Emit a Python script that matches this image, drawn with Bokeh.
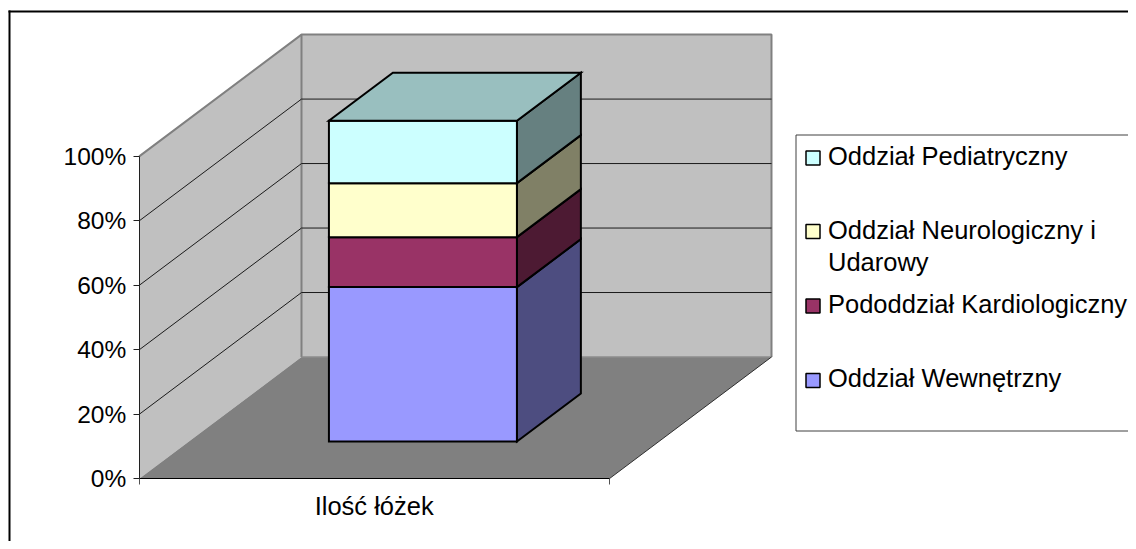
from bokeh.plotting import figure
from bokeh.models import LinearAxis, FixedTicker, PrintfTickFormatter, Range1d
from bokeh.core.properties import value
from bokeh.embed import file_html
from bokeh.resources import INLINE

# ---- data
category = "Ilość łóżek"
series_names = ["Oddział Wewnętrzny", "Pododdział Kardiologiczny", "Oddział Neurologiczny i", "Oddział Pediatryczny"]
series_values = [47.9, 15.5, 16.75, 19.35]
front_colors = ["#9999FF", "#993366", "#FFFFCC", "#CCFFFF"]
side_colors = ["#4D4D80", "#4D1A33", "#808066", "#668080"]
top_color = "#99BFBF"
y_ticks = [0, 20, 40, 60, 80, 100]
legend_order = [3, 2, 1, 0]

FONT = "Liberation Sans"
W, H = 1128, 541
PX0, PY0, PX_U, PX_V = 138.7, 478.3, 470.0, 3.224   # origin and scale of the chart's axes
DEPTH_U, DEPTH_V = 162.3 / PX_U, 121.8 / PX_V       # shift of the back wall

def X(px):  # picture pixel -> axis unit
    return (px - PX0) / PX_U
def Y(py):
    return (PY0 - py) / PX_V
def PU(u, t):
    return u + t * DEPTH_U
def PV(v, t):
    return v + t * DEPTH_V

p = figure(width=W, height=H, output_backend="svg", toolbar_location=None,
           x_range=Range1d(X(0), X(W)), y_range=Range1d(Y(H), Y(0)),
           x_axis_type=None, y_axis_type=None, min_border=0)
p.outline_line_color = None
p.grid.visible = False
p.background_fill_color = "white"

# chart frame (cut by the page at right and bottom)
p.line([X(9), X(9)], [Y(10), Y(H)], line_color="black", line_width=2)
p.line([X(8), X(W)], [Y(11), Y(11)], line_color="black", line_width=2)

# walls and floor
GREY = "#808080"
p.patch([PU(0, 0), PU(0, 1), PU(0, 1), PU(0, 0)], [PV(0, 0), PV(0, 1), PV(100, 1), PV(100, 0)],
        fill_color="#C0C0C0", line_color=None)
p.patch([PU(0, 1), PU(1, 1), PU(1, 1), PU(0, 1)], [PV(0, 1), PV(0, 1), PV(100, 1), PV(100, 1)],
        fill_color="#C0C0C0", line_color=None)
p.patch([PU(0, 0), PU(0, 1), PU(1, 1), PU(1, 0)], [PV(0, 0), PV(0, 1), PV(0, 1), PV(0, 0)],
        fill_color=GREY, line_color=None)
p.line([PU(0, 0), PU(0, 1), PU(1, 1), PU(1, 1)], [PV(100, 0), PV(100, 1), PV(100, 1), PV(0, 1)],
       line_color=GREY, line_width=2)
p.line([PU(0, 1), PU(0, 1)], [PV(0, 1), PV(100, 1)], line_color=GREY, line_width=2)
p.line([PU(0, 1), PU(1, 1)], [PV(0, 1), PV(0, 1)], line_color="#8C8C8C", line_width=1.5)
p.line([PU(1, 0), PU(1, 1)], [PV(0, 0), PV(0, 1)], line_color="#303030", line_width=1)

# gridlines
for v in y_ticks[1:-1]:
    p.line([PU(0, 0), PU(0, 1), PU(1, 1)], [PV(v, 0), PV(v, 1), PV(v, 1)], line_color="#1A1A1A", line_width=1)

# stacked 3D bar
U0, U1, T0, T1 = 0.298, 0.698, 0.306, 0.70
BAR_LINE = dict(line_color="black", line_width=2, line_join="miter")
base = 0.0
for val, front, side in zip(series_values, front_colors, side_colors):
    top = base + val
    p.patch([PU(U1, T0), PU(U1, T1), PU(U1, T1), PU(U1, T0)],
            [PV(base, T0), PV(base, T1), PV(top, T1), PV(top, T0)], fill_color=side, **BAR_LINE)
    p.patch([PU(U0, T0), PU(U1, T0), PU(U1, T0), PU(U0, T0)],
            [PV(base, T0), PV(base, T0), PV(top, T0), PV(top, T0)], fill_color=front, **BAR_LINE)
    base = top
p.patch([PU(U0, T0), PU(U1, T0), PU(U1, T1), PU(U0, T1)],
        [PV(base, T0), PV(base, T0), PV(base, T1), PV(base, T1)], fill_color=top_color, **BAR_LINE)

# axes
ya = LinearAxis(ticker=FixedTicker(ticks=y_ticks), formatter=PrintfTickFormatter(format="%d%%"),
                fixed_location=0, bounds=(0, 100), axis_line_color="#202020", axis_line_width=1,
                major_tick_line_color="#202020", major_tick_out=6, major_tick_in=0, minor_tick_line_color=None,
                major_label_text_font=FONT, major_label_text_font_size="24.5px",
                major_label_text_color="black", major_label_standoff=7)
p.add_layout(ya, "left")
xa = LinearAxis(ticker=FixedTicker(ticks=[0, 1]), major_label_overrides={0: "", 1: ""},
                fixed_location=0, bounds=(0, 1), axis_line_color="black", axis_line_width=1,
                major_tick_line_color="#505050", major_tick_out=6, major_tick_in=0, minor_tick_line_color=None)
p.add_layout(xa, "below")
xl = LinearAxis(ticker=FixedTicker(ticks=[0.5]), major_label_overrides={0.5: category},
                fixed_location=0, axis_line_color=None, major_tick_line_color=None, minor_tick_line_color=None,
                major_tick_out=0, major_tick_in=0,
                major_label_text_font=FONT, major_label_text_font_size="25.5px",
                major_label_text_color="black", major_label_standoff=13)
p.add_layout(xl, "below")

# legend
p.quad(left=[X(795.5)], right=[X(1150)], top=[Y(134.5)], bottom=[Y(430.5)], fill_color="white",
       line_color="#404040", line_width=1)
row_y = [157.5, 231, 305.5, 380]
p.scatter([X(812.5)] * 4, [Y(r) for r in row_y], marker="square", size=14,
          fill_color=[front_colors[i] for i in legend_order], line_color="black", line_width=1.5)
legend_texts = [series_names[i] for i in legend_order] + ["Udarowy"]
legend_baselines = [155.5, 229, 303, 377, 261]
p.text([X(827.5)] * 5, [Y(y) for y in legend_baselines], text=legend_texts, text_font=value(FONT),
       text_font_size=value("25.5px"), text_baseline="alphabetic", text_align="left", text_color="black")

open("out.html", "w").write(file_html(p, INLINE))
